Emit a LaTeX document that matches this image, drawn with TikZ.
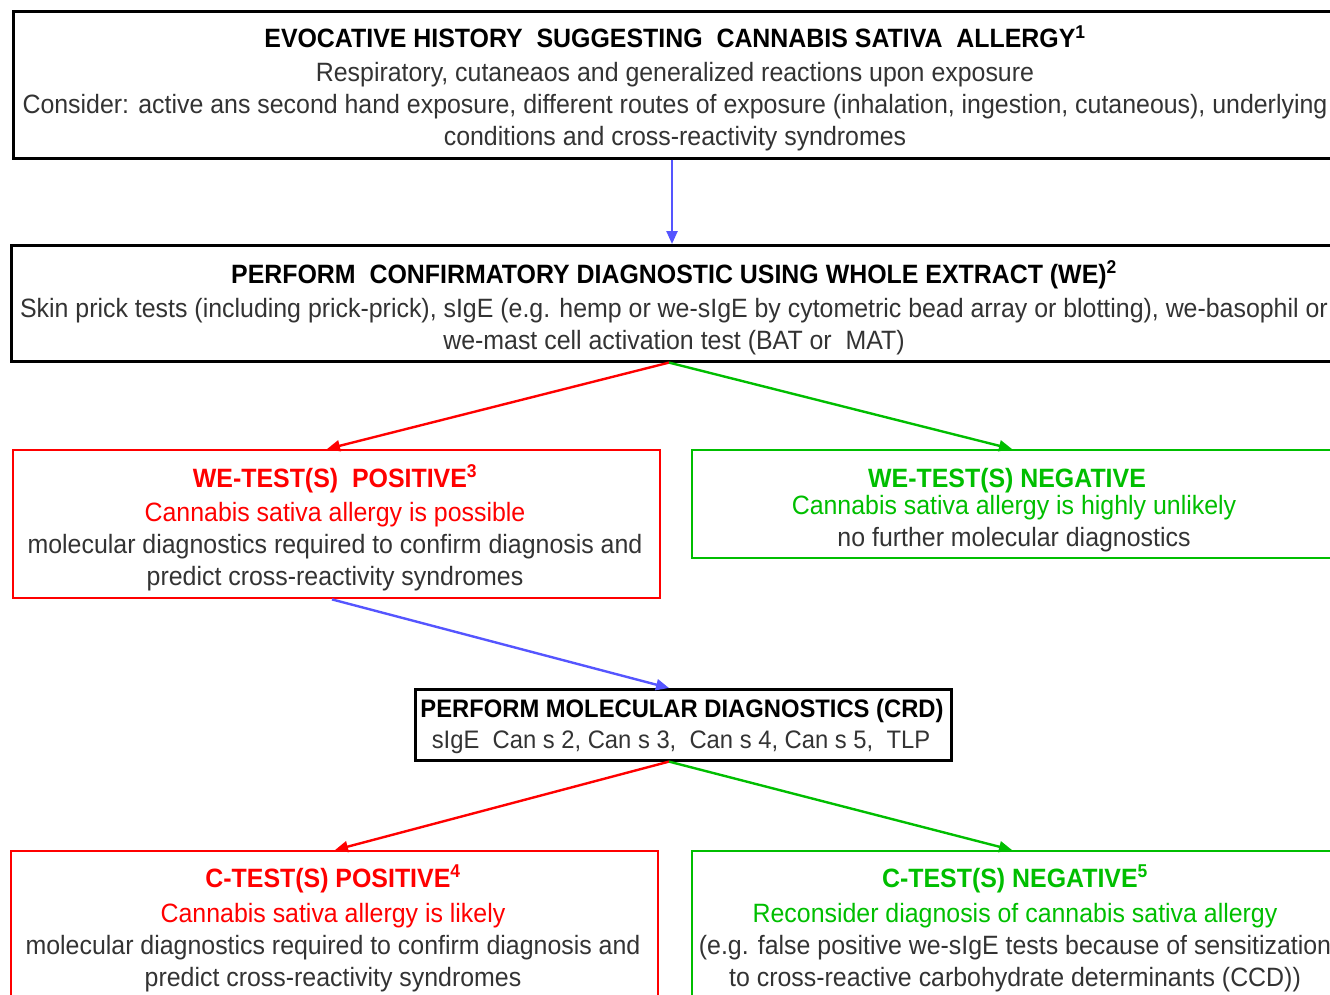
\documentclass[tikz,border=0pt]{standalone}
\usepackage{fontspec}
\setmainfont[FakeStretch=0.94]{Liberation Sans}
\usetikzlibrary{arrows.meta,calc}
\definecolor{myred}{RGB}{255,0,0}
\definecolor{mygreen}{RGB}{0,190,0}
\definecolor{myblue}{RGB}{85,85,255}
\definecolor{txt}{RGB}{51,51,51}
\begin{document}
\begin{tikzpicture}[x=1pt,y=-1pt,
  blackbox/.style={draw=black,line width=2.6pt,inner sep=0pt},
  redbox/.style={draw=myred,line width=2.4pt,inner sep=0pt},
  greenbox/.style={draw=mygreen,line width=2.4pt,inner sep=0pt},
  txtline/.style={inner sep=0pt,anchor=base,font=\fontsize{26.5}{30}\selectfont,text=txt},
  ttl/.style={inner sep=0pt,anchor=base,font=\fontsize{26.5}{30}\selectfont\bfseries,text=black},
  smalltxt/.style={font=\fontsize{25.3}{29}\selectfont},
  smallttl/.style={font=\fontsize{25.3}{29}\selectfont\bfseries},
  arr/.style={line width=2.4pt,-{Triangle[length=13pt,width=11pt]}}]
\useasboundingbox (0,0) rectangle (1330,995);
\clip (0,0) rectangle (1330,995);
% boxes
\node[blackbox,minimum width=1330pt,minimum height=147pt,anchor=north west] (b1) at (12,10) {};
\node[blackbox,minimum width=1330pt,minimum height=116pt,anchor=north west] (b2) at (10,244) {};
\node[redbox,minimum width=647pt,minimum height=148pt,anchor=north west] (b3) at (12,449) {};
\node[greenbox,minimum width=700pt,minimum height=108pt,anchor=north west] (b4) at (691,449) {};
\node[blackbox,minimum width=536pt,minimum height=71pt,anchor=north west] (b5) at (414,688) {};
\node[redbox,minimum width=647pt,minimum height=200pt,anchor=north west] (b6) at (10,850) {};
\node[greenbox,minimum width=700pt,minimum height=200pt,anchor=north west] (b7) at (691,850) {};
% texts box 1
\node[ttl] (t1a) at (675,48) {EVOCATIVE HISTORY\ \ SUGGESTING\ \ CANNABIS SATIVA\ \ ALLERGY\textsuperscript{1}};
\node[txtline] (t1b) at (675,82) {Respiratory, cutaneaos and generalized reactions upon exposure};
\node[txtline] (t1c) at (675,114) {Consider: active ans second hand exposure, different routes of exposure (inhalation, ingestion, cutaneous), underlying};
\node[txtline] (t1d) at (675,146) {conditions and cross-reactivity syndromes};
% box 2
\node[ttl] (t2a) at (674,283) {PERFORM\ \ CONFIRMATORY DIAGNOSTIC USING WHOLE EXTRACT (WE)\textsuperscript{2}};
\node[txtline] (t2b) at (674,317) {Skin prick tests (including prick-prick), sIgE (e.g. hemp or we-sIgE by cytometric bead array or blotting), we-basophil or};
\node[txtline] (t2c) at (674,349) {we-mast cell activation test (BAT or\ \ MAT)};
% box 3
\node[ttl,text=myred] (t3a) at (335,487) {WE-TEST(S)\ \ POSITIVE\textsuperscript{3}};
\node[txtline,text=myred] (t3b) at (335,521) {Cannabis sativa allergy is possible};
\node[txtline] (t3c) at (335,553) {molecular diagnostics required to confirm diagnosis and};
\node[txtline] (t3d) at (335,585) {predict cross-reactivity syndromes};
% box 4
\node[ttl,text=mygreen] (t4a) at (1007,487) {WE-TEST(S) NEGATIVE};
\node[txtline,text=mygreen] (t4b) at (1014,514) {Cannabis sativa allergy is highly unlikely};
\node[txtline] (t4c) at (1014,546) {no further molecular diagnostics};
% box 5
\node[ttl,smallttl] (t5a) at (682,717) {PERFORM MOLECULAR DIAGNOSTICS (CRD)};
\node[txtline,smalltxt] (t5b) at (681,748) {sIgE\ \ Can s 2, Can s 3,\ \ Can s 4, Can s 5,\ \ TLP};
% box 6
\node[ttl,text=myred] (t6a) at (333,887) {C-TEST(S) POSITIVE\textsuperscript{4}};
\node[txtline,text=myred] (t6b) at (333,922) {Cannabis sativa allergy is likely};
\node[txtline] (t6c) at (333,954) {molecular diagnostics required to confirm diagnosis and};
\node[txtline] (t6d) at (333,986) {predict cross-reactivity syndromes};
% box 7
\node[ttl,text=mygreen] (t7a) at (1015,887) {C-TEST(S) NEGATIVE\textsuperscript{5}};
\node[txtline,text=mygreen] (t7b) at (1015,922) {Reconsider diagnosis of cannabis sativa allergy};
\node[txtline] (t7c) at (1015,954) {(e.g. false positive we-sIgE tests because of sensitization};
\node[txtline] (t7d) at (1015,986) {to cross-reactive carbohydrate determinants (CCD))};
% arrow end points on box borders
\coordinate (a1s) at ($(b1.south west)+(660,0)$);
\coordinate (a1e) at ($(b2.north west)+(662,0)$);
\coordinate (a2s) at ($(b2.south west)+(659,0)$);
\coordinate (a2r) at ($(b3.north west)+(315,0)$);
\coordinate (a2g) at ($(b4.north west)+(321,0)$);
\coordinate (a3s) at ($(b3.south west)+(320,0)$);
\coordinate (a3e) at ($(b5.north west)+(255,0)$);
\coordinate (a4s) at ($(b5.south west)+(255,0)$);
\coordinate (a4r) at ($(b6.north west)+(325,0)$);
\coordinate (a4g) at ($(b7.north west)+(321,0)$);
\draw[arr,myblue] (a1s) -- (a1e);
\draw[arr,myred] (a2s) -- (a2r);
\draw[arr,mygreen] (a2s) -- (a2g);
\draw[arr,myblue] (a3s) -- (a3e);
\draw[arr,myred] (a4s) -- (a4r);
\draw[arr,mygreen] (a4s) -- (a4g);
\end{tikzpicture}
\end{document}
